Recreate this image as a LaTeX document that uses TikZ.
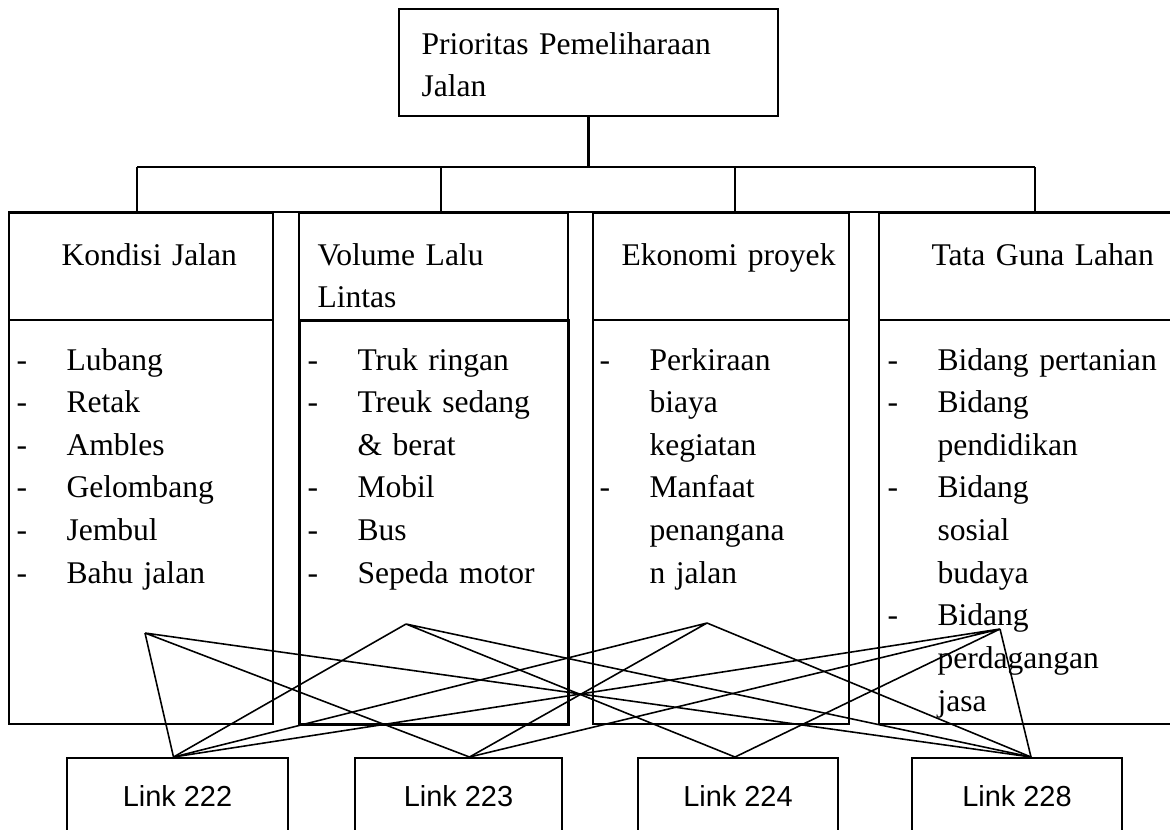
\documentclass[tikz,border=0pt]{standalone}
\usepackage{fontspec}
\setmainfont{Liberation Serif}
\newfontfamily\linkfont{Liberation Sans}
\usetikzlibrary{calc}
\newcommand\listdash{\makebox[19pt][l]{-}}
\newcommand\listgap{\hspace*{19pt}}
\tikzset{box/.style 2 args={draw, line width=0.75pt, inner sep=0pt, anchor=north west,
		minimum width=#1*0.38pt, minimum height=#2*0.38pt},
	words/.style={anchor=base west, inner sep=0pt, align=left, text width=114pt,
		font=\fontsize{12}{16.2}\selectfont},
	linkbox/.style 2 args={box={#1}{#2}, font=\linkfont\fontsize{11}{13}\selectfont},
	frame/.style={line width=0.75pt},
	cross/.style={line width=0.6pt}}

\begin{document}
\begin{tikzpicture}[x=0.38pt,y=-0.38pt]
		\useasboundingbox (0,0) rectangle (1170,829);
		% top
		\node[box={379}{107}] (top) at (398,8) {};
		\node[words] (ttop) at (421,54) {Prioritas Pemeliharaan\\Jalan};
		
		% criteria
		\node[box={264}{107}] (hk) at (8,212) {};
		\node[box={269}{107}] (hv) at (298,212) {};
		\node[box={256}{107}] (he) at (592,212) {};
		\node[box={294}{107}] (ht) at (878,212) {};
		\node[box={264}{404}] (bk) at (8,319) {};
		\node[box={269}{404}, line width=1.1pt] (bv) at (298,319) {};
		\node[box={256}{404}] (be) at (592,319) {};
		\node[box={294}{404}] (bt) at (878,319) {};
		\draw[frame] (hk.north west) -- (ht.north east);
		
		\node[words] (tk) at (61,265) {Kondisi Jalan};
		\node[words] (tv) at (317,265) {Volume Lalu\\Lintas};
		\node[words] (te) at (621,265) {Ekonomi proyek};
		\node[words] (tt) at (931,265) {Tata Guna Lahan};
		
		\node[words] (lk) at (16,370) {\listdash Lubang\\ \listdash Retak\\ \listdash Ambles\\
			\listdash Gelombang\\ \listdash Jembul\\ \listdash Bahu jalan};
		\node[words] (lv) at (307,370) {\listdash Truk ringan\\ \listdash Treuk sedang\\ \listgap \& berat\\
			\listdash Mobil\\ \listdash Bus\\ \listdash Sepeda motor};
		\node[words] (le) at (599,370) {\listdash Perkiraan\\ \listgap biaya\\ \listgap kegiatan\\
			\listdash Manfaat\\ \listgap penangana\\ \listgap n jalan};
		\node[words] (lt) at (887,370) {\listdash Bidang pertanian\\ \listdash Bidang\\ \listgap pendidikan\\
			\listdash Bidang\\ \listgap sosial\\ \listgap budaya\\ \listdash Bidang\\
			\listgap perdagangan\\ \listgap jasa};
		
		% tree lines
		\coordinate (b1) at (137,167);
		\coordinate (b2) at (441,167);
		\coordinate (b3) at (735,167);
		\coordinate (b4) at (1035,167);
		\draw[frame, line width=1.1pt] (top.south) -- (top.south |- b1);
		\draw[frame] (b1) -- (b4);
		\draw[frame] (b1) -- (b1 |- hk.north);
		\draw[frame] (b2) -- (b2 |- hv.north);
		\draw[frame] (b3) -- (b3 |- he.north);
		\draw[frame] (b4) -- (b4 |- ht.north);
		
		% links
		\node[linkbox={221}{76}] (l222) at (66,757) {Link 222};
		\node[linkbox={207}{76}] (l223) at (354,757) {Link 223};
		\node[linkbox={200}{76}] (l224) at (637,757) {Link 224};
		\node[linkbox={210}{76}] (l228) at (911,757) {Link 228};
		
		\coordinate (pk) at (145,633);
		\coordinate (pv) at (406,624);
		\coordinate (pe) at (707,623);
		\coordinate (pt) at (1000,629);
		\coordinate (q222) at ($(l222.north)+(-4,0)$);
		\coordinate (q223) at ($(l223.north)+(11,0)$);
		\coordinate (q224) at ($(l224.north)+(-3,0)$);
		\coordinate (q228) at ($(l228.north)+(14,0)$);
		
		\draw[cross] (pk) -- (q222) (pk) -- (q223) (pk) -- (q228);
		\draw[cross] (pv) -- (q222) (pv) -- (q224) (pv) -- (q228);
		\draw[cross] (pe) -- (q222) (pe) -- (q223) (pe) -- (q228);
		\draw[cross] (pt) -- (q222) (pt) -- (q223) (pt) -- (q224) (pt) -- (q228);
\end{tikzpicture}
\end{document}
